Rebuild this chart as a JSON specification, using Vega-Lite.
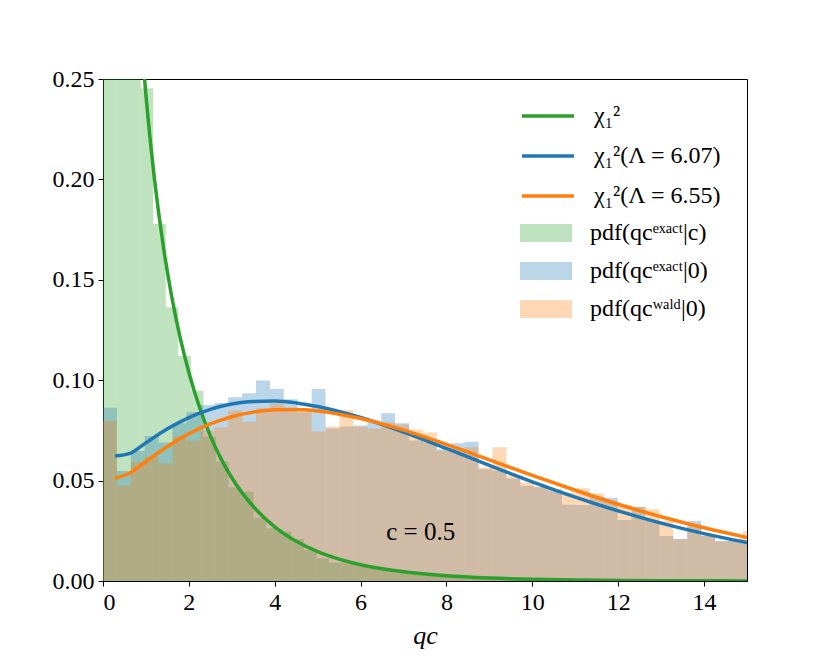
{
  "$schema": "https://vega.github.io/schema/vega-lite/v6.json",
  "width": 644,
  "height": 502,
  "autosize": {"type": "none"},
  "padding": {"left": 103, "top": 79, "right": 83, "bottom": 83},
  "background": "white",
  "datasets": {
    "hist": [
      {"s":"g","x0":0,"x1":0.2925,"d":1.2},
      {"s":"g","x0":0.2925,"x1":0.585,"d":0.52},
      {"s":"g","x0":0.585,"x1":0.8775,"d":0.33},
      {"s":"g","x0":0.8775,"x1":1.17,"d":0.2454},
      {"s":"g","x0":1.17,"x1":1.4625,"d":0.1778},
      {"s":"g","x0":1.4625,"x1":1.755,"d":0.1363},
      {"s":"g","x0":1.755,"x1":2.0475,"d":0.1121},
      {"s":"g","x0":2.0475,"x1":2.34,"d":0.0948},
      {"s":"g","x0":2.34,"x1":2.6325,"d":0.072},
      {"s":"g","x0":2.6325,"x1":2.925,"d":0.0594},
      {"s":"g","x0":2.925,"x1":3.2175,"d":0.0467},
      {"s":"g","x0":3.2175,"x1":3.51,"d":0.0445},
      {"s":"g","x0":3.51,"x1":3.8025,"d":0.0315},
      {"s":"g","x0":3.8025,"x1":4.095,"d":0.0262},
      {"s":"g","x0":4.095,"x1":4.3875,"d":0.0246},
      {"s":"g","x0":4.3875,"x1":4.68,"d":0.0209},
      {"s":"g","x0":4.68,"x1":4.9725,"d":0.0154},
      {"s":"g","x0":4.9725,"x1":5.265,"d":0.0113},
      {"s":"g","x0":5.265,"x1":5.5575,"d":0.0091},
      {"s":"g","x0":5.5575,"x1":5.85,"d":0.0098},
      {"s":"g","x0":5.85,"x1":6.1425,"d":0.008},
      {"s":"g","x0":6.1425,"x1":6.435,"d":0.0072},
      {"s":"g","x0":6.435,"x1":6.7275,"d":0.0058},
      {"s":"g","x0":6.7275,"x1":7.02,"d":0.005},
      {"s":"g","x0":7.02,"x1":7.3125,"d":0.0046},
      {"s":"g","x0":7.3125,"x1":7.605,"d":0.0037},
      {"s":"g","x0":7.605,"x1":7.8975,"d":0.0034},
      {"s":"g","x0":7.8975,"x1":8.19,"d":0.0027},
      {"s":"g","x0":8.19,"x1":8.4825,"d":0.0025},
      {"s":"g","x0":8.4825,"x1":8.775,"d":0.002},
      {"s":"g","x0":8.775,"x1":9.0675,"d":0.0018},
      {"s":"g","x0":9.0675,"x1":9.36,"d":0.0016},
      {"s":"g","x0":9.36,"x1":9.6525,"d":0.0013},
      {"s":"g","x0":9.6525,"x1":9.945,"d":0.0012},
      {"s":"g","x0":9.945,"x1":10.2375,"d":0.001},
      {"s":"g","x0":10.2375,"x1":10.53,"d":0.0009},
      {"s":"g","x0":10.53,"x1":10.8225,"d":0.0008},
      {"s":"g","x0":10.8225,"x1":11.115,"d":0.0007},
      {"s":"g","x0":11.115,"x1":11.4075,"d":0.0006},
      {"s":"g","x0":11.4075,"x1":11.7,"d":0.0005},
      {"s":"g","x0":11.7,"x1":11.9925,"d":0.0005},
      {"s":"g","x0":11.9925,"x1":12.285,"d":0.0004},
      {"s":"g","x0":12.285,"x1":12.5775,"d":0.0003},
      {"s":"g","x0":12.5775,"x1":12.87,"d":0.0003},
      {"s":"g","x0":12.87,"x1":13.1625,"d":0.0003},
      {"s":"g","x0":13.1625,"x1":13.455,"d":0.0002},
      {"s":"g","x0":13.455,"x1":13.7475,"d":0.0002},
      {"s":"g","x0":13.7475,"x1":14.04,"d":0.0002},
      {"s":"g","x0":14.04,"x1":14.3325,"d":0.0001},
      {"s":"g","x0":14.3325,"x1":14.625,"d":0.0001},
      {"s":"g","x0":14.625,"x1":14.9175,"d":0.0001},
      {"s":"g","x0":14.9175,"x1":15.21,"d":0.0001},
      {"s":"b","x0":0,"x1":0.324,"d":0.0863},
      {"s":"b","x0":0.324,"x1":0.648,"d":0.0548},
      {"s":"b","x0":0.648,"x1":0.972,"d":0.0647},
      {"s":"b","x0":0.972,"x1":1.296,"d":0.0722},
      {"s":"b","x0":1.296,"x1":1.62,"d":0.069},
      {"s":"b","x0":1.62,"x1":1.944,"d":0.0785},
      {"s":"b","x0":1.944,"x1":2.268,"d":0.084},
      {"s":"b","x0":2.268,"x1":2.592,"d":0.0877},
      {"s":"b","x0":2.592,"x1":2.916,"d":0.0886},
      {"s":"b","x0":2.916,"x1":3.24,"d":0.0915},
      {"s":"b","x0":3.24,"x1":3.564,"d":0.0935},
      {"s":"b","x0":3.564,"x1":3.888,"d":0.0998},
      {"s":"b","x0":3.888,"x1":4.212,"d":0.0956},
      {"s":"b","x0":4.212,"x1":4.536,"d":0.0905},
      {"s":"b","x0":4.536,"x1":4.86,"d":0.084},
      {"s":"b","x0":4.86,"x1":5.184,"d":0.0956},
      {"s":"b","x0":5.184,"x1":5.508,"d":0.076},
      {"s":"b","x0":5.508,"x1":5.832,"d":0.077},
      {"s":"b","x0":5.832,"x1":6.156,"d":0.0775},
      {"s":"b","x0":6.156,"x1":6.48,"d":0.079},
      {"s":"b","x0":6.48,"x1":6.804,"d":0.0835},
      {"s":"b","x0":6.804,"x1":7.128,"d":0.0785},
      {"s":"b","x0":7.128,"x1":7.452,"d":0.07},
      {"s":"b","x0":7.452,"x1":7.776,"d":0.069},
      {"s":"b","x0":7.776,"x1":8.1,"d":0.0656},
      {"s":"b","x0":8.1,"x1":8.424,"d":0.0686},
      {"s":"b","x0":8.424,"x1":8.748,"d":0.0694},
      {"s":"b","x0":8.748,"x1":9.072,"d":0.0556},
      {"s":"b","x0":9.072,"x1":9.396,"d":0.055},
      {"s":"b","x0":9.396,"x1":9.72,"d":0.051},
      {"s":"b","x0":9.72,"x1":10.044,"d":0.0473},
      {"s":"b","x0":10.044,"x1":10.368,"d":0.0467},
      {"s":"b","x0":10.368,"x1":10.692,"d":0.045},
      {"s":"b","x0":10.692,"x1":11.016,"d":0.038},
      {"s":"b","x0":11.016,"x1":11.34,"d":0.0378},
      {"s":"b","x0":11.34,"x1":11.664,"d":0.042},
      {"s":"b","x0":11.664,"x1":11.988,"d":0.0415},
      {"s":"b","x0":11.988,"x1":12.312,"d":0.0304},
      {"s":"b","x0":12.312,"x1":12.636,"d":0.037},
      {"s":"b","x0":12.636,"x1":12.96,"d":0.03},
      {"s":"b","x0":12.96,"x1":13.284,"d":0.0224},
      {"s":"b","x0":13.284,"x1":13.608,"d":0.021},
      {"s":"b","x0":13.608,"x1":13.932,"d":0.0299},
      {"s":"b","x0":13.932,"x1":14.256,"d":0.0225},
      {"s":"b","x0":14.256,"x1":14.58,"d":0.02},
      {"s":"b","x0":14.58,"x1":14.904,"d":0.0205},
      {"s":"b","x0":14.904,"x1":15.228,"d":0.02},
      {"s":"o","x0":0,"x1":0.324,"d":0.0798},
      {"s":"o","x0":0.324,"x1":0.648,"d":0.0475},
      {"s":"o","x0":0.648,"x1":0.972,"d":0.0594},
      {"s":"o","x0":0.972,"x1":1.296,"d":0.062},
      {"s":"o","x0":1.296,"x1":1.62,"d":0.0585},
      {"s":"o","x0":1.62,"x1":1.944,"d":0.0722},
      {"s":"o","x0":1.944,"x1":2.268,"d":0.07},
      {"s":"o","x0":2.268,"x1":2.592,"d":0.075},
      {"s":"o","x0":2.592,"x1":2.916,"d":0.0765},
      {"s":"o","x0":2.916,"x1":3.24,"d":0.085},
      {"s":"o","x0":3.24,"x1":3.564,"d":0.0793},
      {"s":"o","x0":3.564,"x1":3.888,"d":0.086},
      {"s":"o","x0":3.888,"x1":4.212,"d":0.0885},
      {"s":"o","x0":4.212,"x1":4.536,"d":0.085},
      {"s":"o","x0":4.536,"x1":4.86,"d":0.0845},
      {"s":"o","x0":4.86,"x1":5.184,"d":0.0744},
      {"s":"o","x0":5.184,"x1":5.508,"d":0.077},
      {"s":"o","x0":5.508,"x1":5.832,"d":0.0852},
      {"s":"o","x0":5.832,"x1":6.156,"d":0.0768},
      {"s":"o","x0":6.156,"x1":6.48,"d":0.076},
      {"s":"o","x0":6.48,"x1":6.804,"d":0.079},
      {"s":"o","x0":6.804,"x1":7.128,"d":0.078},
      {"s":"o","x0":7.128,"x1":7.452,"d":0.0755},
      {"s":"o","x0":7.452,"x1":7.776,"d":0.0739},
      {"s":"o","x0":7.776,"x1":8.1,"d":0.065},
      {"s":"o","x0":8.1,"x1":8.424,"d":0.066},
      {"s":"o","x0":8.424,"x1":8.748,"d":0.0666},
      {"s":"o","x0":8.748,"x1":9.072,"d":0.0565},
      {"s":"o","x0":9.072,"x1":9.396,"d":0.0666},
      {"s":"o","x0":9.396,"x1":9.72,"d":0.0525},
      {"s":"o","x0":9.72,"x1":10.044,"d":0.049},
      {"s":"o","x0":10.044,"x1":10.368,"d":0.047},
      {"s":"o","x0":10.368,"x1":10.692,"d":0.046},
      {"s":"o","x0":10.692,"x1":11.016,"d":0.044},
      {"s":"o","x0":11.016,"x1":11.34,"d":0.0462},
      {"s":"o","x0":11.34,"x1":11.664,"d":0.0437},
      {"s":"o","x0":11.664,"x1":11.988,"d":0.04},
      {"s":"o","x0":11.988,"x1":12.312,"d":0.0378},
      {"s":"o","x0":12.312,"x1":12.636,"d":0.0368},
      {"s":"o","x0":12.636,"x1":12.96,"d":0.0357},
      {"s":"o","x0":12.96,"x1":13.284,"d":0.03},
      {"s":"o","x0":13.284,"x1":13.608,"d":0.0208},
      {"s":"o","x0":13.608,"x1":13.932,"d":0.0285},
      {"s":"o","x0":13.932,"x1":14.256,"d":0.0225},
      {"s":"o","x0":14.256,"x1":14.58,"d":0.0196},
      {"s":"o","x0":14.58,"x1":14.904,"d":0.021},
      {"s":"o","x0":14.904,"x1":15.228,"d":0.025}
    ],
    "curves": [
      {"s":"chi","q":0.9,"p":0.268},
      {"s":"chi","q":1.0,"p":0.242},
      {"s":"chi","q":1.1,"p":0.2194},
      {"s":"chi","q":1.2,"p":0.1999},
      {"s":"chi","q":1.4,"p":0.1674},
      {"s":"chi","q":1.6,"p":0.1417},
      {"s":"chi","q":1.8,"p":0.1209},
      {"s":"chi","q":2.0,"p":0.1038},
      {"s":"chi","q":2.25,"p":0.0864},
      {"s":"chi","q":2.5,"p":0.0723},
      {"s":"chi","q":2.75,"p":0.0608},
      {"s":"chi","q":3.0,"p":0.0514},
      {"s":"chi","q":3.5,"p":0.0371},
      {"s":"chi","q":4.0,"p":0.027},
      {"s":"chi","q":4.5,"p":0.0198},
      {"s":"chi","q":5.0,"p":0.0146},
      {"s":"chi","q":5.5,"p":0.0109},
      {"s":"chi","q":6.0,"p":0.0081},
      {"s":"chi","q":7.0,"p":0.0046},
      {"s":"chi","q":8.0,"p":0.0026},
      {"s":"chi","q":9.0,"p":0.0015},
      {"s":"chi","q":10.0,"p":0.00085},
      {"s":"chi","q":11.0,"p":0.00049},
      {"s":"chi","q":12.0,"p":0.00029},
      {"s":"chi","q":13.0,"p":0.00017},
      {"s":"chi","q":14.0,"p":0.0001},
      {"s":"chi","q":15.0,"p":0.00006},
      {"s":"l1","q":0.28,"p":0.0623},
      {"s":"l1","q":0.63,"p":0.0636},
      {"s":"l1","q":1.0,"p":0.0688},
      {"s":"l1","q":1.5,"p":0.0758},
      {"s":"l1","q":2.0,"p":0.0814},
      {"s":"l1","q":2.5,"p":0.0855},
      {"s":"l1","q":3.0,"p":0.0881},
      {"s":"l1","q":3.5,"p":0.0894},
      {"s":"l1","q":4.0,"p":0.0896},
      {"s":"l1","q":4.5,"p":0.0887},
      {"s":"l1","q":5.0,"p":0.0869},
      {"s":"l1","q":6.0,"p":0.0814},
      {"s":"l1","q":7.0,"p":0.0742},
      {"s":"l1","q":8.0,"p":0.066},
      {"s":"l1","q":9.0,"p":0.0576},
      {"s":"l1","q":10.0,"p":0.0494},
      {"s":"l1","q":11.0,"p":0.0418},
      {"s":"l1","q":12.0,"p":0.0349},
      {"s":"l1","q":13.0,"p":0.0288},
      {"s":"l1","q":14.0,"p":0.0236},
      {"s":"l1","q":15.0,"p":0.0191},
      {"s":"l2","q":0.28,"p":0.0512},
      {"s":"l2","q":0.63,"p":0.0538},
      {"s":"l2","q":1.0,"p":0.0595},
      {"s":"l2","q":1.5,"p":0.067},
      {"s":"l2","q":2.0,"p":0.0733},
      {"s":"l2","q":2.5,"p":0.0782},
      {"s":"l2","q":3.0,"p":0.0818},
      {"s":"l2","q":3.5,"p":0.0841},
      {"s":"l2","q":4.0,"p":0.0853},
      {"s":"l2","q":4.5,"p":0.0854},
      {"s":"l2","q":5.0,"p":0.0847},
      {"s":"l2","q":6.0,"p":0.0809},
      {"s":"l2","q":7.0,"p":0.0751},
      {"s":"l2","q":8.0,"p":0.068},
      {"s":"l2","q":9.0,"p":0.0603},
      {"s":"l2","q":10.0,"p":0.0526},
      {"s":"l2","q":11.0,"p":0.0452},
      {"s":"l2","q":12.0,"p":0.0382},
      {"s":"l2","q":13.0,"p":0.032},
      {"s":"l2","q":14.0,"p":0.0265},
      {"s":"l2","q":15.0,"p":0.0217}
    ],
    "notes": [
      {"label":"c = 0.5","q":7.4,"p":0.0245}
    ]
  },
  "layer": [
    {
      "data": {"name": "hist"},
      "mark": {"type": "rect", "clip": true, "fillOpacity": 0.3, "strokeWidth": 0},
      "encoding": {
        "x": {"field": "x0", "type": "quantitative", "scale": {"domain": [0, 15], "nice": false, "zero": false},
              "axis": {"values": [0,2,4,6,8,10,12,14], "title": "qc"}},
        "x2": {"field": "x1"},
        "y": {"field": "d", "type": "quantitative", "scale": {"domain": [0, 0.25], "nice": false},
              "axis": {"values": [0,0.05,0.1,0.15,0.2,0.25], "format": ".2f", "title": null}},
        "y2": {"datum": 0},
        "fill": {"field": "s", "type": "nominal",
                 "scale": {"domain": ["g","b","o"], "range": ["#2ca02c","#1f77b4","#ff7f0e"]},
                 "legend": {"orient": "none", "legendX": 417, "legendY": 128, "title": null,
                            "symbolType": "M-1,-0.35H1V0.35H-1Z", "symbolSize": 2704, "symbolStrokeWidth": 0,
                            "symbolOpacity": 0.3, "labelOffset": 18, "rowPadding": 0,
                            "labelExpr": "{'g':'pdf(qcᵉˣᵃᶜᵗ|c)','b':'pdf(qcᵉˣᵃᶜᵗ|0)','o':'pdf(qcʷᵃˡᵈ|0)'}[datum.value]"}}
      }
    },
    {
      "data": {"name": "curves"},
      "mark": {"type": "line", "clip": true, "strokeWidth": 3.5, "interpolate": "monotone"},
      "encoding": {
        "x": {"field": "q", "type": "quantitative"},
        "y": {"field": "p", "type": "quantitative"},
        "stroke": {"field": "s", "type": "nominal",
                   "scale": {"domain": ["chi","l1","l2"], "range": ["#2ca02c","#1f77b4","#ff7f0e"]},
                   "legend": {"orient": "none", "legendX": 417, "legendY": 9, "title": null,
                              "symbolType": "stroke", "symbolSize": 2704, "symbolStrokeWidth": 3.5,
                              "labelOffset": 18, "rowPadding": -1.5,
                              "labelExpr": "{'chi':'χ₁²','l1':'χ₁²(Λ = 6.07)','l2':'χ₁²(Λ = 6.55)'}[datum.value]"}}
      }
    },
    {
      "data": {"name": "notes"},
      "mark": {"type": "text", "font": "Liberation Serif", "fontSize": 25, "color": "black", "align": "center", "baseline": "middle"},
      "encoding": {
        "x": {"field": "q", "type": "quantitative"},
        "y": {"field": "p", "type": "quantitative"},
        "text": {"field": "label"}
      }
    }
  ],
  "config": {
    "view": {"stroke": "black", "strokeWidth": 1},
    "font": "Liberation Serif",
    "axis": {
      "labelFont": "Liberation Serif", "labelFontSize": 24, "labelColor": "black",
      "domainColor": "black", "tickColor": "black", "tickSize": 5, "grid": false,
      "titleFont": "Liberation Serif", "titleFontSize": 26, "titleFontWeight": "normal",
      "titleColor": "black", "labelPadding": 4
    },
    "axisX": {"titleFontStyle": "italic", "titlePadding": 8},
    "legend": {
      "labelFont": "Liberation Serif", "labelFontSize": 24, "labelColor": "black",
      "padding": 0
    }
  }
}
